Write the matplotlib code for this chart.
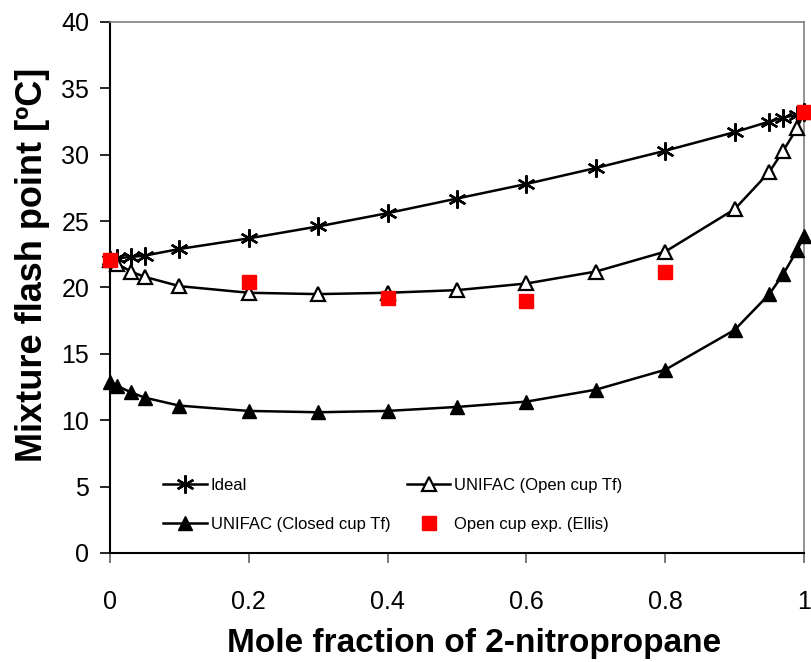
import matplotlib
matplotlib.use("Agg")
import matplotlib.pyplot as plt

plt.rcParams['font.family'] = ['Liberation Sans', 'DejaVu Sans']

# mole fraction of 2-nitropropane
x_model = [0, 0.01, 0.03, 0.05, 0.1, 0.2, 0.3, 0.4, 0.5, 0.6, 0.7, 0.8, 0.9, 0.95, 0.97, 0.99, 1.0]

ideal = [22.1, 22.2, 22.3, 22.4, 22.9, 23.7, 24.6, 25.6, 26.7, 27.8, 29.0, 30.3, 31.7, 32.5, 32.8, 33.0, 33.2]
open_cup = [22.1, 21.8, 21.2, 20.8, 20.1, 19.6, 19.5, 19.6, 19.8, 20.3, 21.2, 22.7, 25.9, 28.7, 30.3, 32.0, 33.2]
closed_cup = [12.9, 12.6, 12.1, 11.7, 11.1, 10.7, 10.6, 10.7, 11.0, 11.4, 12.3, 13.8, 16.8, 19.5, 21.0, 22.8, 23.9]

x_exp = [0, 0.2, 0.4, 0.6, 0.8, 1.0]
ellis = [22.1, 20.4, 19.2, 19.0, 21.2, 33.2]

fig = plt.figure(figsize=(8.12, 6.62), dpi=100)
ax = fig.add_axes([0.1355, 0.1647, 0.8547, 0.8021])

l_ideal, = ax.plot(x_model, ideal, color='black', lw=1.8, marker=(6, 2, 0), ms=13, mew=1.7,
                   label='Ideal', clip_on=False, zorder=3)
l_open, = ax.plot(x_model, open_cup, color='black', lw=1.8, marker='^', ms=10.5, mfc='white',
                  mec='black', mew=1.6, label='UNIFAC (Open cup Tf)', clip_on=False, zorder=3)
l_closed, = ax.plot(x_model, closed_cup, color='black', lw=1.8, marker='^', ms=10.5, mfc='black',
                    mec='black', label='UNIFAC (Closed cup Tf)', clip_on=False, zorder=3)
l_ellis, = ax.plot(x_exp, ellis, ls='none', marker='s', ms=10.5, color='#ff0000', mec='#ff0000',
                   label='Open cup exp. (Ellis)', clip_on=False, zorder=4)

ax.set_xlim(0, 1)
ax.set_ylim(0, 40)
ax.set_xticks([0, 0.2, 0.4, 0.6, 0.8, 1])
ax.set_xticklabels(['0', '0.2', '0.4', '0.6', '0.8', '1'])
ax.set_yticks(range(0, 41, 5))

for s in ['left', 'bottom']:
    ax.spines[s].set_color('black')
    ax.spines[s].set_linewidth(1.5)
for s in ['top', 'right']:
    ax.spines[s].set_color('#808080')
    ax.spines[s].set_linewidth(1.2)

ax.tick_params(axis='x', direction='out', length=7, width=1.2, colors='#606060', labelcolor='black',
               labelsize=18, pad=20)
ax.tick_params(axis='y', direction='out', length=7, width=1.2, colors='black', labelsize=18, pad=8)

ax.set_xlabel('Mole fraction of 2-nitropropane', fontsize=24, fontweight='bold', labelpad=10)
ax.set_ylabel('Mixture flash point [ºC]', fontsize=26, fontweight='bold', labelpad=8)
ax.xaxis.label.set_x(0.525)
ax.yaxis.label.set_y(0.542)

# column-major fill: Ideal / Closed in first column, Open / Ellis in second
ax.legend([l_ideal, l_closed, l_open, l_ellis],
          [l_ideal.get_label(), l_closed.get_label(), l_open.get_label(), l_ellis.get_label()],
          loc='lower left', bbox_to_anchor=(0.055, 0.011), ncol=2, frameon=False, fontsize=12,
          handlelength=2.6, columnspacing=1.0, labelspacing=1.45, handletextpad=0.25)

fig.savefig('out.png', dpi=100)
